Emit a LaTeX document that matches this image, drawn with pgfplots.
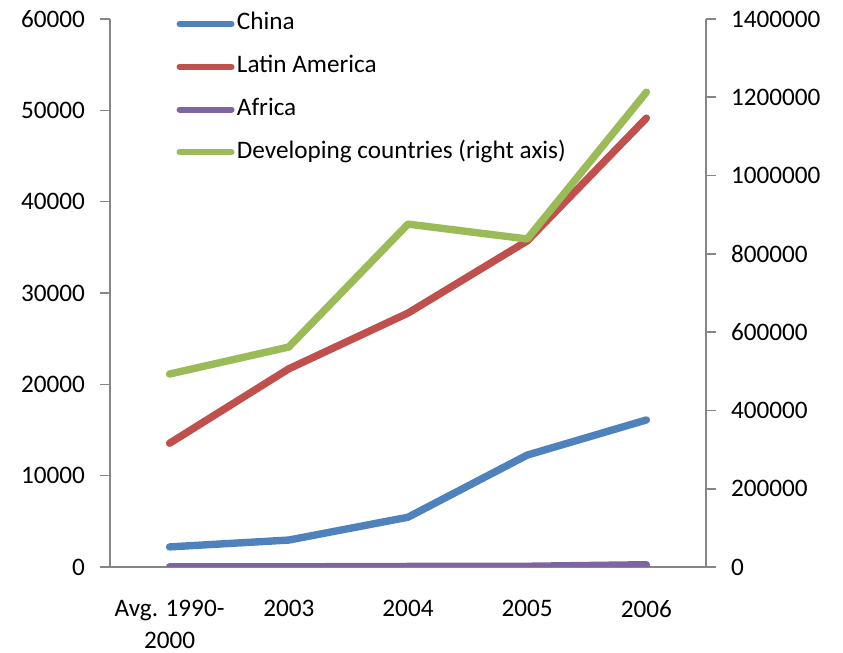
\documentclass[border=0pt]{standalone}
\usepackage{pgfplots}
\pgfplotsset{compat=1.18}
\usepackage{fontspec}
\setmainfont{Carlito}
\definecolor{chinablue}{RGB}{79,129,189}
\definecolor{latred}{RGB}{192,80,77}
\definecolor{afrpurple}{RGB}{128,100,162}
\definecolor{devgreen}{RGB}{155,187,89}
\definecolor{axisgray}{RGB}{134,134,134}
\pgfplotsset{
	base/.style={
		width=298pt, height=274pt, scale only axis,
		xmin=-0.5, xmax=4.5,
		tick align=outside,
		major tick length=5pt,
		axis line style={axisgray, line width=0.8pt},
		every tick/.style={axisgray, line width=0.8pt},
		tick label style={font=\fontsize{12.6}{16}\selectfont},
		/pgf/number format/assume math mode=true,
		scaled y ticks=false,
		yticklabel style={/pgf/number format/fixed, /pgf/number format/1000 sep={}},
	},
	series/.style={line width=3.7pt, line cap=round, line join=round},
}
\begin{document}
\begin{tikzpicture}
\begin{axis}[base, name=ax,
	axis y line*=left, axis x line*=bottom,
	ymin=0, ymax=60000,
	ytick={0,10000,...,60000},
	yticklabel style={xshift=-4pt},
	xtick={0,1,2,3,4},
	xticklabels={{Avg. 1990-\\2000},2003,2004,2005,2006},
	xticklabel style={align=center, yshift=-8pt},
	x tick style={draw=none},
	minor xtick={-0.5,0.5,1.5,2.5,3.5,4.5},
	minor tick length=5pt,
	minor x tick style={axisgray, line width=0.8pt},
	legend cell align=left,
	legend image code/.code={\draw[#1, line width=3pt, line cap=round] (0pt,0pt) -- (26pt,0pt);},
	legend style={draw=none, fill=none, inner sep=0pt, row sep=7pt,
		at={(rel axis cs:0.111,1.018)}, anchor=north west,
		font=\fontsize{12.6}{15}\selectfont,
		nodes={inner sep=1.2pt, text height=9pt, text depth=3pt}},
]
\addplot[series, chinablue] coordinates {(0,2200) (1,2950) (2,5450) (3,12250) (4,16100)};
\addlegendentry{China}
\addplot[series, latred] coordinates {(0,13550) (1,21700) (2,27800) (3,35700) (4,49150)};
\addlegendentry{Latin America}
\addplot[series, afrpurple] coordinates {(0,30) (1,20) (2,60) (3,80) (4,250)};
\addlegendentry{Africa}
\addlegendimage{series, devgreen}
\addlegendentry{Developing countries (right axis)}
\end{axis}
\begin{axis}[base,
	axis y line*=right, axis x line=none,
	ymin=0, ymax=1400000,
	ytick={0,200000,...,1400000},
	yticklabel style={xshift=4pt},
]
\addplot[series, devgreen] coordinates {(0,493000) (1,562000) (2,876000) (3,838000) (4,1213000)};
\end{axis}
\pgfresetboundingbox
\path ([shift={(-55pt,-43pt)}]ax.south west) rectangle ([shift={(366.5pt,283.5pt)}]ax.south west);
\end{tikzpicture}
\end{document}
